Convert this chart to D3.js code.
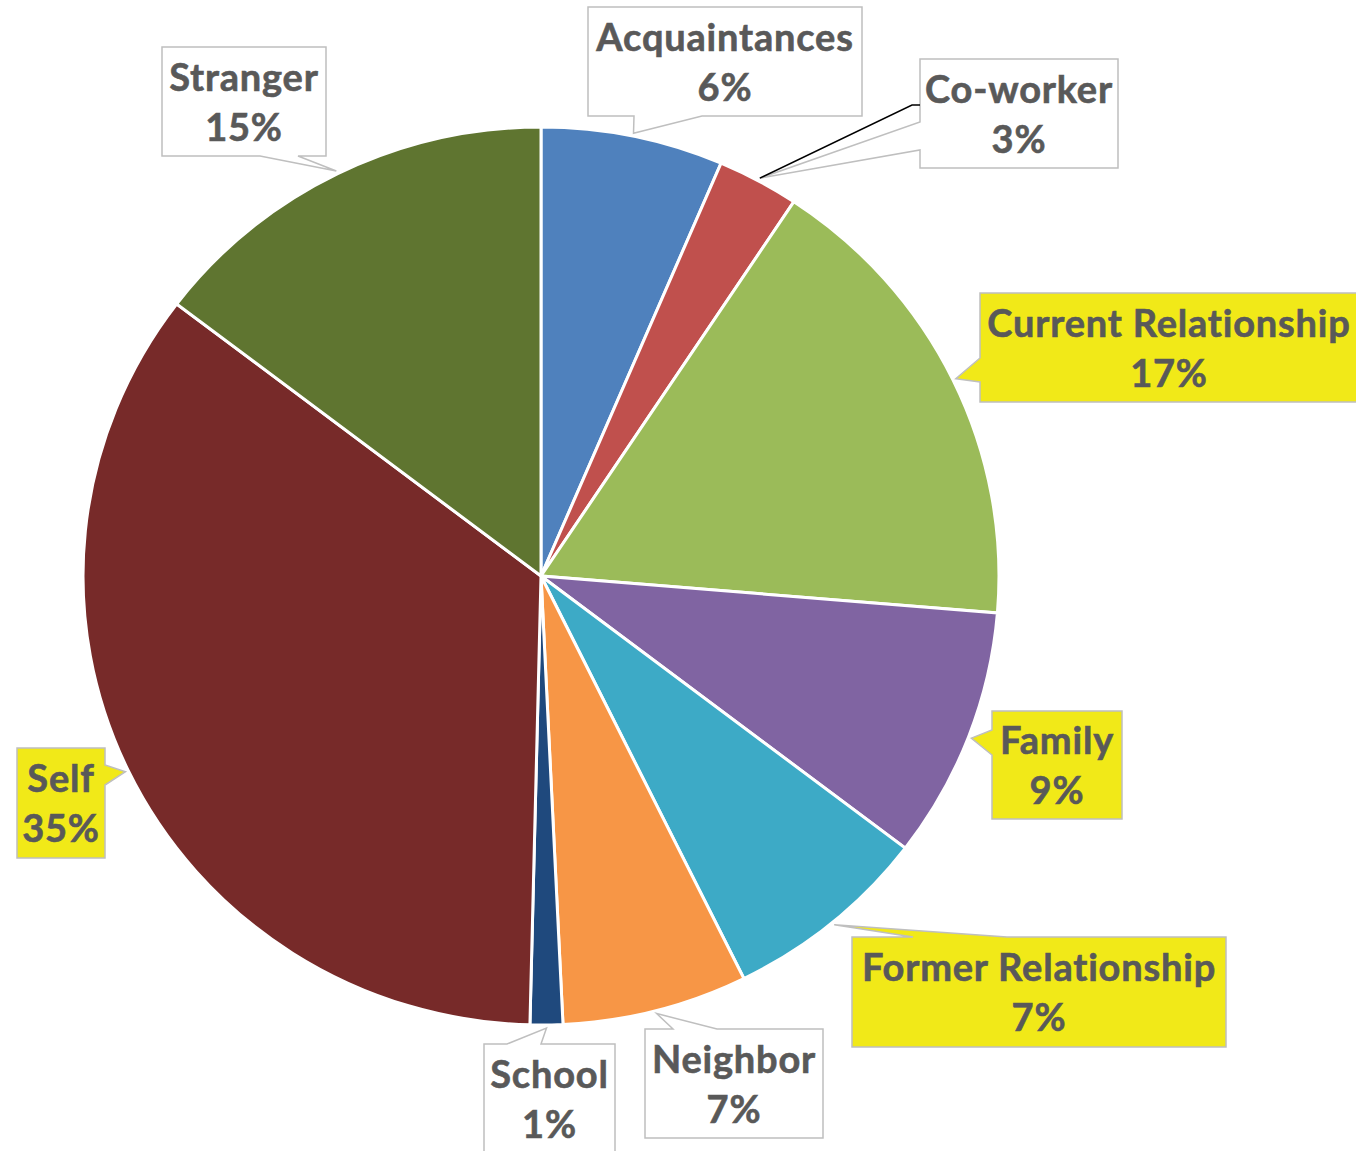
<!DOCTYPE html>
<html>
<head>
<meta charset="utf-8">
<script src="https://cdn.jsdelivr.net/npm/d3@7"></script>
<style>
  body { margin: 0; background: #fff; }
  svg { display: block; }
  .lbl { font-family: Lato, "Open Sans", sans-serif; font-weight: 700; font-size: 38px;
         letter-spacing: 0.8px; fill: #595959; stroke: #595959; stroke-width: 0.6px; }
</style>
</head>
<body>
<svg width="1356" height="1151"></svg>
<script>
// data, clockwise from 12 o'clock
const categories = ['Acquaintances', 'Co-worker', 'Current Relationship', 'Family',
  'Former Relationship', 'Neighbor', 'School', 'Self', 'Stranger'];
const shares = [6.43, 2.88, 17.0, 9.05, 7.33, 6.54, 1.15, 34.97, 14.64];
const colors = ['#4F81BD', '#C0504D', '#9BBB59', '#8064A2', '#3DAAC6',
  '#F79646', '#1F497D', '#772A29', '#5F7530'];
const highlighted = ['Current Relationship', 'Family', 'Former Relationship', 'Self'];

// callout boxes (layout only): box, edge of the pointer, pointer base on that edge
const callouts = {
  'Acquaintances':        { box: [588, 7, 274, 109],   side: 'bottom', base: [634, 702] },
  'Co-worker':            { box: [920, 59, 198, 109],  side: 'left',   base: [122, 150], leader: [[912, 105], [920, 105]] },
  'Current Relationship': { box: [980, 293, 378, 109], side: 'left',   base: [358, 382] },
  'Family':               { box: [992, 711, 130, 108], side: 'left',   base: [730, 755] },
  'Former Relationship':  { box: [852, 937, 374, 110], side: 'top',    base: [913, 1007] },
  'Neighbor':             { box: [645, 1029, 178, 109], side: 'top',   base: [673, 717] },
  'School':               { box: [484, 1044, 131, 120], side: 'top',   base: [507, 541] },
  'Self':                 { box: [17, 748, 88, 110],   side: 'right',  base: [765, 785] },
  'Stranger':             { box: [162, 47, 164, 109],  side: 'bottom', base: [260, 298] }
};

const svg = d3.select('svg');
const cx = 541, cy = 576, R = 449, sx = 1.02;

const data = categories.map((c, i) => ({ name: c, value: shares[i], color: colors[i] }));

const pie = d3.pie().sort(null).value(d => d.value);
const arc = d3.arc().innerRadius(0).outerRadius(R);
const arcs = pie(data);

const g = svg.append('g')
  .attr('transform', `translate(${cx},${cy}) scale(${sx},1)`);

g.selectAll('path')
  .data(arcs).enter()
  .append('path')
    .attr('d', arc)
    .attr('fill', d => d.data.color)
    .attr('stroke', '#fff')
    .attr('stroke-width', 3)
    .attr('vector-effect', 'non-scaling-stroke');

// callout outline: rectangle with a wedge pointing at the slice
const calloutPath = (box, side, base, tip) => {
  const [x, y, w, h] = box;
  const p = [[x, y]];
  if (side === 'top') p.push([base[0], y], tip, [base[1], y]);
  p.push([x + w, y]);
  if (side === 'right') p.push([x + w, base[0]], tip, [x + w, base[1]]);
  p.push([x + w, y + h]);
  if (side === 'bottom') p.push([base[1], y + h], tip, [base[0], y + h]);
  p.push([x, y + h]);
  if (side === 'left') p.push([x, base[1]], tip, [x, base[0]]);
  return 'M' + p.map(q => q.join(',')).join('L') + 'Z';
};

const labels = svg.append('g');

arcs.forEach(d => {
  const c = callouts[d.data.name];
  const a = (d.startAngle + d.endAngle) / 2;
  const tip = [cx + sx * (R + 3) * Math.sin(a), cy - (R + 3) * Math.cos(a)];
  const hi = highlighted.includes(d.data.name);

  labels.append('path')
    .attr('d', calloutPath(c.box, c.side, c.base, tip))
    .attr('fill', hi ? '#F1E918' : '#fff')
    .attr('stroke', '#BFBFBF')
    .attr('stroke-width', 1.5);

  if (c.leader) {
    labels.append('path')
      .attr('d', d3.line()([tip, ...c.leader]))
      .attr('fill', 'none')
      .attr('stroke', '#000')
      .attr('stroke-width', 1.5);
  }

  const [x, y, w, h] = c.box;
  const mx = x + w / 2, my = y + Math.min(h, 109) / 2;
  labels.append('text')
    .attr('class', 'lbl')
    .attr('text-anchor', 'middle')
    .attr('x', mx).attr('y', my - 11)
    .text(d.data.name);
  labels.append('text')
    .attr('class', 'lbl')
    .attr('text-anchor', 'middle')
    .attr('x', mx).attr('y', my + 39)
    .text(Math.round(d.data.value) + '%');
});
</script>
</body>
</html>
